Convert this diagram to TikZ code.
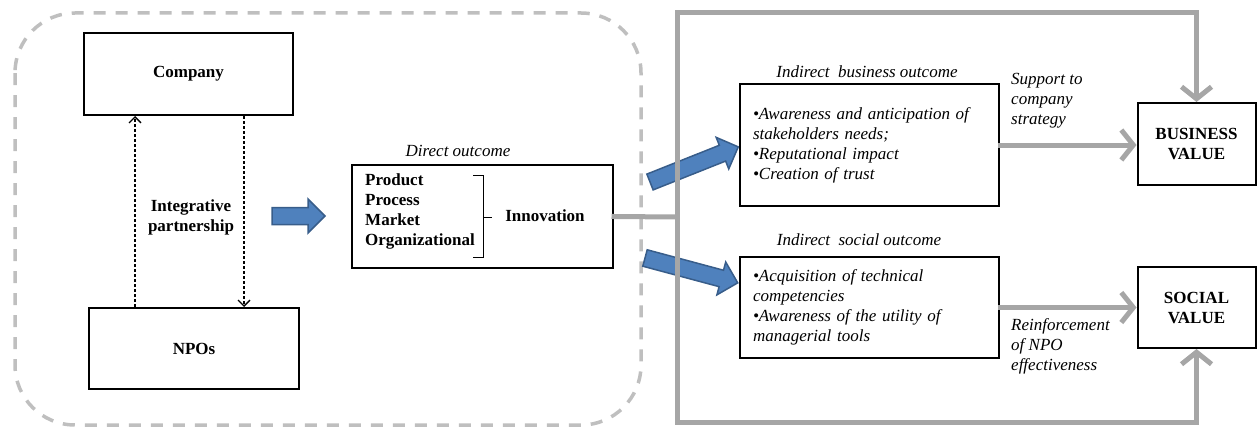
\documentclass[tikz,border=0pt]{standalone}
\usepackage{fontspec}
\setmainfont{Liberation Serif}
\usetikzlibrary{arrows.meta}

\definecolor{loopgray}{RGB}{166,166,166}
\definecolor{dashgray}{RGB}{191,191,191}
\definecolor{arrowblue}{RGB}{79,129,189}
\definecolor{arrowedge}{RGB}{56,93,138}

\tikzset{
  box/.style={draw,line width=2pt,align=center,font=\fontsize{17}{20}\selectfont\bfseries},
  listbox/.style={draw,line width=2pt,align=left,text width=233pt,inner xsep=13pt,
    font=\fontsize{17}{20}\selectfont\itshape},
  plain/.style={align=center,font=\fontsize{17}{20}\selectfont\bfseries},
  lbl/.style={align=left,inner sep=0pt,font=\fontsize{17}{20}\selectfont\itshape},
  partnerarea/.style={draw=dashgray,line width=3.5pt,dash pattern=on 12pt off 10pt,rounded corners=60pt},
  dasharrow/.style={line width=1.4pt,dash pattern=on 3pt off 2pt,-{Straight Barb[length=6pt,width=12pt]}},
  grayline/.style={draw=loopgray,line width=5pt,line cap=rect},
  grayarrow/.style={grayline,-{Straight Barb[length=12pt,width=30pt]}},
  fatarrow/.style={fill=arrowblue,draw=arrowedge,line width=1.5pt,line join=miter}
}

% block arrow: tail, angle, length
\newcommand{\bluearrow}[3]{%
  \begin{scope}[shift={#1},rotate=#2]
    \filldraw [fatarrow] (0,-8.5) -- (#3-17,-8.5) -- (#3-17,-17) -- (#3,0) -- (#3-17,17) -- (#3-17,8.5) -- (0,8.5) -- cycle;
  \end{scope}}

\begin{document}
\begin{tikzpicture}[x=1pt,y=-1pt]
\useasboundingbox (0,0) rectangle (1257,428);

% partnership
\draw [partnerarea] (15,13) rectangle (641,425);
\node (company) at (188.5,74) [box,minimum width=209,minimum height=82] {Company};
\node (npo) at (194,348.5) [box,minimum width=210,minimum height=81] {NPOs};
\draw [dasharrow] ([xshift=-59]npo.north) -- ([xshift=-53.5]company.south);
\draw [dasharrow] ([xshift=55.5]company.south) -- ([xshift=50]npo.north);
\node (integr) at (191,217) [plain] {Integrative\\partnership};

\bluearrow{(272,216)}{0}{53}

% direct outcome
\node (direct) at (482.5,216.5) [box,minimum width=261,minimum height=103] {};
\node (directlbl) at (458,151) [lbl] {Direct outcome};
\node (types) at (365,211.5) [plain,anchor=west,align=left,inner sep=0pt] {Product\\Process\\Market\\Organizational};
\draw [line width=1pt] (473,175) -- (483,175) -- (483,257) -- (473,257) (483,217) -- (492,217);
\node (innov) at (545,216) [plain] {Innovation};

\bluearrow{(650,182)}{21.7}{95}
\bluearrow{(645,258)}{-15}{96}

% indirect outcomes
\node (bout) at (869.5,145) [listbox,minimum height=122] {\textbullet Awareness and anticipation of\\stakeholders needs;\\\textbullet Reputational impact\\\textbullet Creation of trust};
\node (boutlbl) at (867,72) [lbl] {Indirect\ \ business outcome};
\node (sout) at (869.5,307.5) [listbox,minimum height=101] {\textbullet Acquisition of technical\\competencies\\\textbullet Awareness of the utility of\\managerial tools};
\node (soutlbl) at (859,240) [lbl] {Indirect\ \ social outcome};

% values
\node (bval) at (1196.5,144) [box,minimum width=118,minimum height=82] {BUSINESS\\VALUE};
\node (sval) at (1196.5,307.5) [box,minimum width=118,minimum height=81] {SOCIAL\\VALUE};
\draw [grayarrow] (bout.east) -- (bout.east -| bval.west);
\draw [grayarrow] (sout.east) -- (sval.west);
\node (support) at (1011,101) [lbl,anchor=west] {Support to\\company\\strategy};
\node (reinf) at (1011,346) [lbl,anchor=west] {Reinforcement\\of NPO\\effectiveness};

% feedback loop
\coordinate (split) at (677,217);
\coordinate (looptop) at (677,13);
\coordinate (loopbot) at (677,422);
\draw [grayline] (direct.east) -- (split);
\draw [grayline] (looptop) -- (loopbot);
\draw [grayarrow] (looptop) -| (bval.north);
\draw [grayarrow] (loopbot) -| (sval.south);
\end{tikzpicture}
\end{document}
